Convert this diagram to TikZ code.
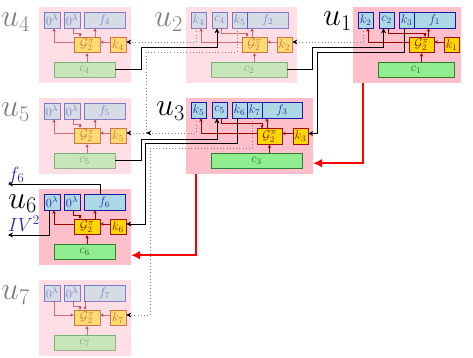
\RequirePackage{fix-cm}
\documentclass[tikz,border=0pt]{standalone}
\usetikzlibrary{arrows.meta}

\definecolor{modpink}{HTML}{FFC0CB}
\definecolor{outfill}{HTML}{ADD8E6}
\definecolor{outdraw}{HTML}{1A1AA6}
\definecolor{outtext}{HTML}{2A2A9A}
\definecolor{gfill}{HTML}{FFD700}
\definecolor{gdraw}{HTML}{A01010}
\definecolor{gtext}{HTML}{8B1A1A}
\definecolor{cfill}{HTML}{90EE90}
\definecolor{cdraw}{HTML}{2E7D32}
\definecolor{ctext}{HTML}{2E6B2E}
\definecolor{wire}{HTML}{A00000}
\definecolor{sidelbl}{HTML}{2B2BA0}

\newcommand\boxfont{\fontsize{12.5}{12.5}\selectfont}
\newcommand\modfont{\fontsize{32}{32}\selectfont}
\newcommand\sidefont{\fontsize{19}{19}\selectfont}

\begin{document}
\begin{tikzpicture}[x=1pt,y=-1pt,
  modbg/.style={fill=modpink, draw=none, inner sep=0, minimum height=76pt},
  obox/.style={draw=outdraw, fill=outfill, text=outtext, inner sep=0,
    minimum height=16pt, minimum width=15pt, line width=0.6pt, font=\boxfont},
  gbox/.style={draw=gdraw, fill=gfill, text=gtext, inner sep=0,
    minimum width=25pt, minimum height=15.5pt, line width=0.6pt, font=\boxfont},
  kbox/.style={gbox, minimum width=15pt},
  cbox/.style={draw=cdraw, fill=cfill, text=ctext, inner sep=0,
    minimum height=15pt, line width=0.6pt, font=\boxfont},
  iw/.style={draw=wire, line width=0.6pt, -{Stealth[length=3.5pt,width=3.5pt]}},
  cw/.style={draw=black, line width=0.8pt, -{Stealth[length=5pt,width=5pt]}},
  dw/.style={draw=gray, line width=0.8pt, dash pattern=on 0.8pt off 2.4pt,
    -{Stealth[length=5pt,width=5pt,color=black]}},
  rw/.style={draw=red, line width=2.2pt, -{Latex[length=9pt,width=9pt]}},
  faded/.style={opacity=0.5},
  modlbl/.style={font=\modfont, anchor=base west, inner sep=0},
  sidelabel/.style={font=\sidefont, text=sidelbl, anchor=base west, inner sep=0}]

\useasboundingbox (0,0) rectangle (473,358);

% ---------- module u4 (inactive) ----------
\begin{scope}[faded]
  \node[modbg, minimum width=92pt] (U4) at (85,45) {};
  \node[modlbl] (L4) at (1,26.5) {$u_4$};
  \node[obox, minimum width=16pt] (u4a) at (52,20) {$0^\lambda$};
  \node[obox, minimum width=16pt] (u4b) at (72,20) {$0^\lambda$};
  \node[obox, minimum width=41pt] (u4f) at (104.5,20) {$f_4$};
  \node[gbox, minimum width=26pt] (u4G) at (87,45) {$\mathcal{G}^{\pi}_{2}$};
  \node[kbox, minimum width=16pt] (u4k) at (118,45) {$k_4$};
  \node[cbox, minimum width=61pt] (u4c) at (84.5,69.5) {$c_4$};
  \draw[iw] ([yshift=3pt]u4G.west) -| ([xshift=2pt]u4a.south);
  \draw[iw] ([xshift=1pt]u4b.south) -- ++(0,5) -| ([xshift=-7pt]u4G.north);
  \draw[iw] ([xshift=8pt]u4G.north) -- ([xshift=8pt]u4G.north |- u4f.south);
  \draw[iw] ([yshift=3pt]u4k.west) -- ([yshift=3pt]u4G.east);
  \draw[iw] (u4c.north -| u4G) -- (u4G.south);
\end{scope}

% ---------- module u5 (inactive) ----------
\begin{scope}[faded]
  \node[modbg, minimum width=92pt] (U5) at (85,136) {};
  \node[modlbl] (L5) at (1,117) {$u_5$};
  \node[obox, minimum width=16pt] (u5a) at (52,111) {$0^\lambda$};
  \node[obox, minimum width=16pt] (u5b) at (72,111) {$0^\lambda$};
  \node[obox, minimum width=41pt] (u5f) at (104.5,111) {$f_5$};
  \node[gbox, minimum width=26pt] (u5G) at (87,136) {$\mathcal{G}^{\pi}_{2}$};
  \node[kbox, minimum width=16pt] (u5k) at (118,136) {$k_5$};
  \node[cbox, minimum width=61pt] (u5c) at (84.5,160.5) {$c_5$};
  \draw[iw] ([yshift=3pt]u5G.west) -| ([xshift=2pt]u5a.south);
  \draw[iw] ([xshift=1pt]u5b.south) -- ++(0,5) -| ([xshift=-7pt]u5G.north);
  \draw[iw] ([xshift=8pt]u5G.north) -- ([xshift=8pt]u5G.north |- u5f.south);
  \draw[iw] ([yshift=3pt]u5k.west) -- ([yshift=3pt]u5G.east);
  \draw[iw] (u5c.north -| u5G) -- (u5G.south);
\end{scope}

% ---------- module u6 (active) ----------
\node[modbg, minimum width=92pt] (U6) at (85,227) {};
\node[modlbl] (L6) at (8,208) {$u_6$};
\node[obox, minimum width=16pt] (u6a) at (52,202) {$0^\lambda$};
\node[obox, minimum width=16pt] (u6b) at (72,202) {$0^\lambda$};
\node[obox, minimum width=41pt] (u6f) at (104.5,202) {$f_6$};
\node[gbox, minimum width=26pt] (u6G) at (87,227) {$\mathcal{G}^{\pi}_{2}$};
\node[kbox, minimum width=16pt] (u6k) at (118,227) {$k_6$};
\node[cbox, minimum width=61pt] (u6c) at (84.5,251.5) {$c_6$};
\draw[iw] ([yshift=3pt]u6G.west) -| ([xshift=2pt]u6a.south);
\draw[iw] ([xshift=1pt]u6b.south) -- ++(0,5) -| ([xshift=-7pt]u6G.north);
\draw[iw] ([xshift=8pt]u6G.north) -- ([xshift=8pt]u6G.north |- u6f.south);
\draw[iw] ([yshift=3pt]u6k.west) -- ([yshift=3pt]u6G.east);
\draw[iw] (u6c.north -| u6G) -- (u6G.south);

% ---------- module u7 (inactive, all inputs) ----------
\begin{scope}[faded]
  \node[modbg, minimum width=92pt] (U7) at (85,318) {};
  \node[modlbl] (L7) at (1,299.5) {$u_7$};
  \node[obox, minimum width=16pt] (u7a) at (52,293) {$0^\lambda$};
  \node[obox, minimum width=16pt] (u7b) at (72,293) {$0^\lambda$};
  \node[obox, minimum width=41pt] (u7f) at (104.5,293) {$f_7$};
  \node[gbox, minimum width=26pt] (u7G) at (87,318) {$\mathcal{G}^{\pi}_{2}$};
  \node[kbox, minimum width=16pt] (u7k) at (118,318) {$k_7$};
  \node[cbox, minimum width=61pt] (u7c) at (84.5,342.5) {$c_7$};
  \draw[iw] ([xshift=2pt]u7a.south) |- ([yshift=3pt]u7G.west);
  \draw[iw] ([xshift=1pt]u7b.south) -- ++(0,5) -| ([xshift=-7pt]u7G.north);
  \draw[iw] ([xshift=-2pt]u7G.north |- u7f.south) -- ([xshift=-2pt]u7G.north);
  \draw[iw] ([yshift=3pt]u7k.west) -- ([yshift=3pt]u7G.east);
  \draw[iw] (u7c.north -| u7G) -- (u7G.south);
\end{scope}

% ---------- module u2 (inactive) ----------
\begin{scope}[faded]
  \node[modbg, minimum width=111pt] (U2) at (241.5,45) {};
  \node[modlbl] (L2) at (154,26.5) {$u_2$};
  \node[obox] (u2a) at (198.5,20) {$k_4$};
  \node[obox] (u2b) at (219.5,20) {$c_4$};
  \node[obox] (u2x) at (239.5,20) {$k_5$};
  \node[obox, minimum width=41pt] (u2f) at (267.5,20) {$f_2$};
  \node[gbox] (u2G) at (254.5,45) {$\mathcal{G}^{\pi}_{2}$};
  \node[kbox] (u2k) at (284.5,45) {$k_2$};
  \node[cbox, minimum width=76pt] (u2c) at (249,69.5) {$c_2$};
  \draw[iw] ([yshift=3pt]u2G.west) -| ([xshift=2.5pt]u2a.south);
  \draw[iw] ([xshift=1.5pt]u2b.south) -- ++(0,5) -| ([xshift=-7.5pt]u2G.north);
  \draw[iw] ([xshift=-2.5pt]u2G.north) -- ([xshift=-2.5pt]u2G.north |- u2f.south);
  \draw[iw] ([yshift=3pt]u2k.west) -- ([yshift=3pt]u2G.east);
  \draw[iw] (u2c.north -| u2G) -- (u2G.south);
\end{scope}

% ---------- module u1 (active) ----------
\node[modbg, minimum width=108pt] (U1) at (407,45) {};
\node[modlbl] (L1) at (323,25.5) {$u_1$};
\node[obox] (u1a) at (365.5,20) {$k_2$};
\node[obox] (u1b) at (386.5,20) {$c_2$};
\node[obox] (u1x) at (406.5,20) {$k_3$};
\node[obox, minimum width=41pt] (u1f) at (434.5,20) {$f_1$};
\node[gbox] (u1G) at (421.5,45) {$\mathcal{G}^{\pi}_{2}$};
\node[kbox] (u1k) at (451.5,45) {$k_1$};
\node[cbox, minimum width=76pt] (u1c) at (416,69.5) {$c_1$};
\draw[iw] ([yshift=3pt]u1G.west) -| ([xshift=2.5pt]u1a.south);
\draw[iw] ([xshift=1.5pt]u1b.south) -- ++(0,5) -| ([xshift=3.5pt]u1G.north);
\draw[iw] ([xshift=7pt]u1G.north) -- ([xshift=7pt]u1G.north |- u1f.south);
\draw[iw] ([yshift=3pt]u1k.west) -- ([yshift=3pt]u1G.east);
\draw[iw] (u1c.north -| u1G) -- (u1G.south);

% ---------- module u3 (active) ----------
\node[modbg, minimum width=127pt] (U3) at (249.5,136) {};
\node[modlbl] (L3) at (156,115.5) {$u_3$};
\node[obox] (u3a) at (198.5,110) {$k_5$};
\node[obox] (u3b) at (219.5,110) {$c_5$};
\node[obox] (u3x) at (239.5,110) {$k_6$};
\node[obox] (u3y) at (254.5,110) {$k_7$};
\node[obox, minimum width=40pt] (u3f) at (282,110) {$f_3$};
\node[gbox] (u3G) at (269.5,136.5) {$\mathcal{G}^{\pi}_{2}$};
\node[kbox] (u3k) at (300.5,136.5) {$k_3$};
\node[cbox, minimum width=91pt] (u3c) at (256.5,161) {$c_3$};
\draw[iw] ([yshift=3pt]u3G.west) -| ([xshift=2.5pt]u3a.south);
\draw[iw] ([xshift=1.5pt]u3b.south) -- ++(0,5) -| ([xshift=-7.5pt]u3G.north);
\draw[iw] ([xshift=-2.5pt]u3G.north) -- ([xshift=-2.5pt]u3G.north |- u3f.south);
\draw[iw] ([yshift=3pt]u3k.west) -- ([yshift=3pt]u3G.east);
\draw[iw] (u3c.north -| u3G) -- (u3G.south);

% ---------- dotted links between key boxes ----------
\draw[dw] ([xshift=-2.5pt]u1a.south) |- ([yshift=3pt]u2k.east);
\draw[dw] ([xshift=-2.5pt]u2a.south) |- ([yshift=3pt]u4k.east);
\draw[dw] ([xshift=-2.5pt]u2x.south) |- (146,52) |- ([yshift=3pt]u5k.east);
\draw[dw, shorten >=20pt] ([xshift=-2.5pt]u3a.south) |- ([yshift=3pt]u5k.east);
\draw[dw] ([xshift=-2.5pt]u3y.south) |- (150,148) |- ([yshift=3pt]u7k.east);

% ---------- solid links ----------
\draw[cw] (u4c.east) -| (141,47) -| ([xshift=-2.5pt]u2b.south);
\draw[cw] (u2c.east) -| (312,47) -| ([xshift=-3pt]u1b.south);
\draw[cw] (u5c.east) -| (141,139) -| ([xshift=-2.5pt]u3b.south);
\draw[cw] ([xshift=-2pt]u1x.south) |- (317,52) |- ([yshift=3pt]u3k.east);
\draw[cw] ([xshift=-2.5pt]u3x.south) |- (145,143) |- ([yshift=3pt]u6k.east);

% ---------- outputs of u6 ----------
\coordinate (f6out) at (8,184);
\coordinate (ivout) at (8,235);
\draw[cw] ([xshift=-4.5pt]u6f.north) |- (f6out);
\draw[cw] ([xshift=-3pt]u6a.south) |- (ivout);
\node[sidelabel] (f6lbl) at (8,180) {$f_6$};
\node[sidelabel] (ivlbl) at (8,231) {$IV^2$};

% ---------- activation flow ----------
\draw[rw] ([xshift=10pt]U1.south west) |- ([yshift=11pt]U3.south east);
\draw[rw] ([xshift=10pt]U3.south west) |- ([yshift=10pt]U6.south east);

\end{tikzpicture}
\end{document}
